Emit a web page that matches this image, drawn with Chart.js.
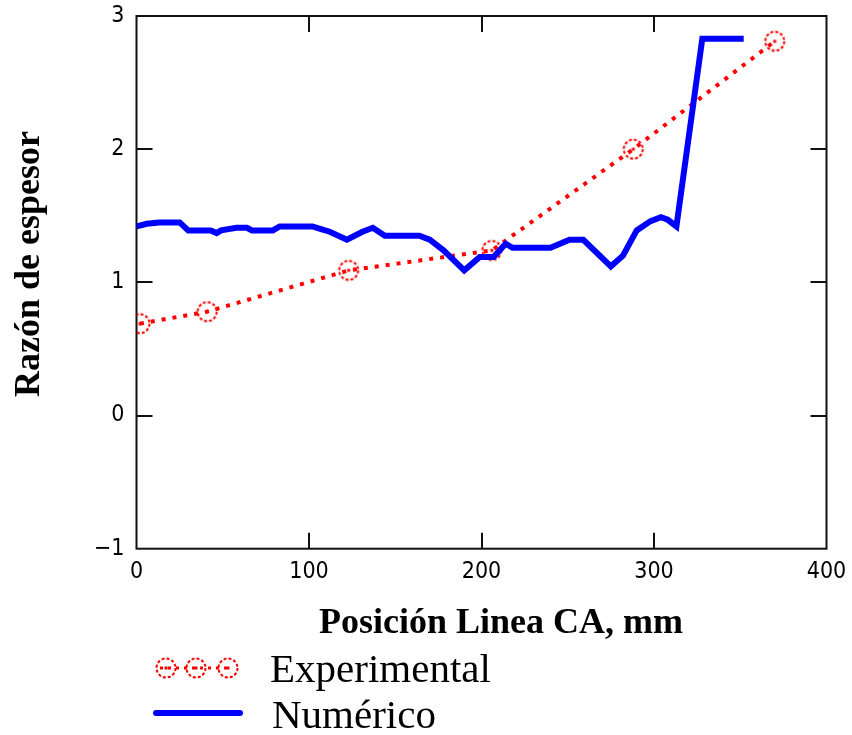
<!DOCTYPE html>
<html>
<head>
<meta charset="utf-8">
<script src="https://cdn.jsdelivr.net/npm/chart.js@4.4.1/dist/chart.umd.min.js"></script>
<style>
  html, body { margin: 0; padding: 0; background: #fff; }
  #wrap { width: 852px; height: 735px; position: relative; }
</style>
</head>
<body>
<div id="wrap"><canvas id="c"></canvas></div>
<script>
// ---- data ----
const expX = [2, 41, 123, 206, 288, 370];
const expY = [0.69, 0.78, 1.09, 1.24, 2.0, 2.81];

const numX = [0, 6, 13, 25, 30, 43, 46.5, 49, 58, 64, 67, 79, 83, 102, 107, 112, 122, 131, 137, 144, 164, 170, 178, 190, 199, 207, 214, 218, 240, 251, 259, 275, 282, 290, 298, 304, 308, 313, 328, 352];
const numY = [1.42, 1.44, 1.45, 1.45, 1.39, 1.39, 1.37, 1.39, 1.41, 1.41, 1.39, 1.39, 1.42, 1.42, 1.40, 1.38, 1.32, 1.38, 1.41, 1.35, 1.35, 1.32, 1.24, 1.09, 1.19, 1.19, 1.29, 1.26, 1.26, 1.32, 1.32, 1.12, 1.20, 1.39, 1.46, 1.49, 1.47, 1.42, 2.83, 2.83];

const xTicks = [0, 100, 200, 300, 400];
const yTicks = [-1, 0, 1, 2, 3];

const seriesLabels = ['Experimental', 'Numérico'];
const xTitle = 'Posición Linea CA, mm';
const yTitle = 'Razón de espesor';

// ---- marker (dashed circle with centre dot) ----
function makeMarker() {
  const cv = document.createElement('canvas');
  cv.width = 26; cv.height = 26;
  const g = cv.getContext('2d');
  g.strokeStyle = '#ff0000';
  g.lineWidth = 2;
  g.setLineDash([3, 2]);
  g.beginPath();
  g.arc(13, 13, 9.5, 0, Math.PI * 2);
  g.stroke();
  g.setLineDash([]);
  g.fillStyle = '#ff0000';
  g.fillRect(11.5, 11.5, 3, 3);
  return cv;
}
const marker = makeMarker();

const RED = '#ff0000';
const BLUE = '#0000ff';

const decor = {
  id: 'decor',
  beforeDatasetsDraw(chart) {
    const { ctx, chartArea: a, scales: { x, y } } = chart;
    ctx.save();
    ctx.strokeStyle = '#111';
    ctx.lineWidth = 2;
    ctx.strokeRect(a.left, a.top, a.right - a.left, a.bottom - a.top);
    ctx.beginPath();
    const L = 16;
    yTicks.slice(1, -1).forEach(v => {
      const p = Math.round(y.getPixelForValue(v));
      ctx.moveTo(a.left, p); ctx.lineTo(a.left + L, p);
      ctx.moveTo(a.right, p); ctx.lineTo(a.right - L, p);
    });
    xTicks.slice(1, -1).forEach(v => {
      const p = Math.round(x.getPixelForValue(v));
      ctx.moveTo(p, a.bottom); ctx.lineTo(p, a.bottom - L);
      ctx.moveTo(p, a.top); ctx.lineTo(p, a.top + L);
    });
    ctx.stroke();
    ctx.restore();
  },
  afterDraw(chart) {
    const { ctx } = chart;
    ctx.save();
    ctx.fillStyle = '#000';
    // axis titles
    ctx.font = 'bold 36px "Liberation Serif", "Times New Roman", serif';
    ctx.textAlign = 'center';
    ctx.textBaseline = 'alphabetic';
    ctx.fillText(xTitle, 501, 633);
    ctx.save();
    ctx.translate(39, 264);
    ctx.rotate(-Math.PI / 2);
    ctx.fillText(yTitle, 0, 0);
    ctx.restore();

    // legend
    const ds = chart.data.datasets;
    ctx.save();
    ctx.strokeStyle = RED;
    ctx.lineWidth = 3;
    ctx.setLineDash([3, 5]);
    ctx.beginPath();
    ctx.moveTo(160, 668); ctx.lineTo(232, 668);
    ctx.stroke();
    ctx.restore();
    [166, 196, 228].forEach(cx => ctx.drawImage(marker, cx - 13, 668 - 13));
    ctx.strokeStyle = BLUE;
    ctx.lineWidth = 6;
    ctx.lineCap = 'round';
    ctx.beginPath();
    ctx.moveTo(156, 713); ctx.lineTo(240, 713);
    ctx.stroke();

    ctx.fillStyle = '#000';
    ctx.font = '41px "Liberation Serif", "Times New Roman", serif';
    ctx.textAlign = 'left';
    ctx.fillText(ds[0].label, 270, 682);
    ctx.fillText(ds[1].label, 272, 728);
    ctx.restore();
  }
};

const tickFont = { family: '"Liberation Sans Narrow", "DejaVu Sans Condensed", "Liberation Sans", sans-serif', size: 23 };

new Chart(document.getElementById('c'), {
  type: 'line',
  data: {
    datasets: [
      {
        label: seriesLabels[0],
        data: expX.map((v, i) => ({ x: v, y: expY[i] })),
        borderColor: RED,
        backgroundColor: RED,
        borderWidth: 4,
        borderDash: [4, 7],
        borderCapStyle: 'butt',
        pointStyle: marker,
        pointRadius: 10,
        tension: 0,
        fill: false,
        order: 2
      },
      {
        label: seriesLabels[1],
        data: numX.map((v, i) => ({ x: v, y: numY[i] })),
        borderColor: BLUE,
        backgroundColor: BLUE,
        borderWidth: 6,
        pointRadius: 0,
        tension: 0,
        fill: false,
        borderJoinStyle: 'miter',
        order: 1
      }
    ]
  },
  options: {
    responsive: true,
    maintainAspectRatio: false,
    animation: false,
    events: [],
    layout: { padding: { top: 16, right: 25.5, left: 0, bottom: 0 } },
    plugins: { legend: { display: false }, tooltip: { enabled: false } },
    scales: {
      x: {
        type: 'linear',
        min: 0, max: 400,
        afterBuildTicks: s => { s.ticks = xTicks.map(v => ({ value: v })); },
        afterFit: s => { s.height = 186.3; s.paddingLeft = 0; s.paddingRight = 0; },
        grid: { display: false, drawTicks: false },
        border: { display: false },
        ticks: { color: '#000', font: tickFont, padding: 10, maxRotation: 0, autoSkip: false }
      },
      y: {
        type: 'linear',
        min: -1, max: 3,
        afterBuildTicks: s => { s.ticks = yTicks.map(v => ({ value: v })); },
        afterFit: s => { s.width = 136.5; s.paddingTop = 0; s.paddingBottom = 0; },
        grid: { display: false, drawTicks: false },
        border: { display: false },
        ticks: {
          color: '#000', font: tickFont, padding: 12, autoSkip: false,
          callback: v => String(v).replace('-', '\u2212')
        }
      }
    }
  },
  plugins: [decor]
});
</script>
</body>
</html>
